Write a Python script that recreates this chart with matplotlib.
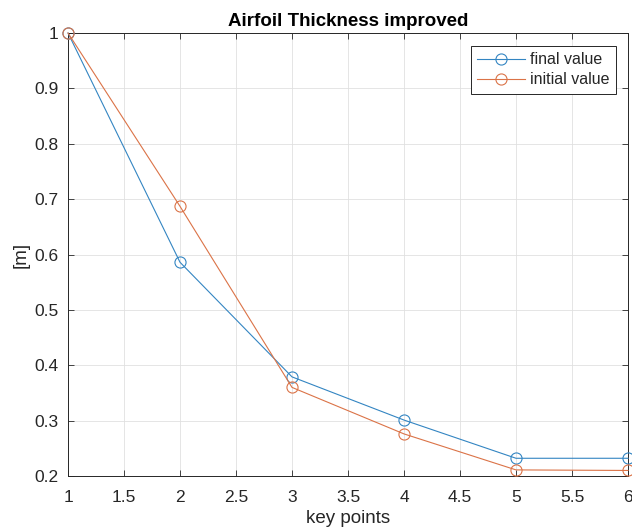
import numpy as np
import matplotlib.pyplot as plt

plt.rcParams['font.family'] = ['Liberation Sans', 'DejaVu Sans']

key_points = [1, 2, 3, 4, 5, 6]
final_value = [1.0, 0.586, 0.379, 0.301, 0.232, 0.232]
initial_value = [1.0, 0.687, 0.360, 0.276, 0.211, 0.210]

# MATLAB default colour order, slightly lightened
blue = (0.2, 0.52, 0.76)
orange = (0.86, 0.45, 0.28)
ink = '#262626'

fig = plt.figure(figsize=(6.32, 5.29), dpi=100)
ax = fig.add_axes([0.1076, 0.1002, 0.8861, 0.8374])

ax.plot(key_points, final_value, '-o', color=blue, lw=0.8, ms=8,
        mfc='none', mew=0.8, clip_on=False, label='final value', zorder=3)
ax.plot(key_points, initial_value, '-o', color=orange, lw=0.8, ms=8,
        mfc='none', mew=0.8, clip_on=False, label='initial value', zorder=3)

ax.set_xlim(1, 6)
ax.set_ylim(0.2, 1)
ax.set_xticks(np.arange(1, 6.01, 0.5))
ax.set_xticklabels(['1', '1.5', '2', '2.5', '3', '3.5', '4', '4.5', '5', '5.5', '6'])
ax.set_yticks(np.arange(0.2, 1.01, 0.1))
ax.set_yticklabels(['0.2', '0.3', '0.4', '0.5', '0.6', '0.7', '0.8', '0.9', '1'])
ax.tick_params(direction='in', length=4, width=0.6, labelsize=12.5,
               colors=ink, top=True, right=True)
ax.tick_params(axis='x', pad=10)
ax.tick_params(axis='y', pad=7)
ax.grid(True, color='#e0e0e0', lw=0.6)
ax.set_axisbelow(True)
for s in ax.spines.values():
    s.set_linewidth(0.7)
    s.set_color(ink)

ax.set_xlabel('key points', fontsize=13.5, color=ink, labelpad=4)
ax.set_ylabel('[m]', fontsize=13.5, color=ink, labelpad=3)
ax.set_title('Airfoil Thickness improved', fontsize=13.5, fontweight='bold',
             color='black', pad=5)

leg = ax.legend(loc='upper right', bbox_to_anchor=(0.9786, 0.9707),
                borderaxespad=0, fontsize=11.5, fancybox=False, framealpha=1,
                edgecolor=ink, handlelength=3.0, borderpad=0.4,
                labelspacing=0.3, handletextpad=0.3)
leg.get_frame().set_linewidth(0.7)
for t in leg.get_texts():
    t.set_color(ink)

fig.savefig('out.png', dpi=100)
